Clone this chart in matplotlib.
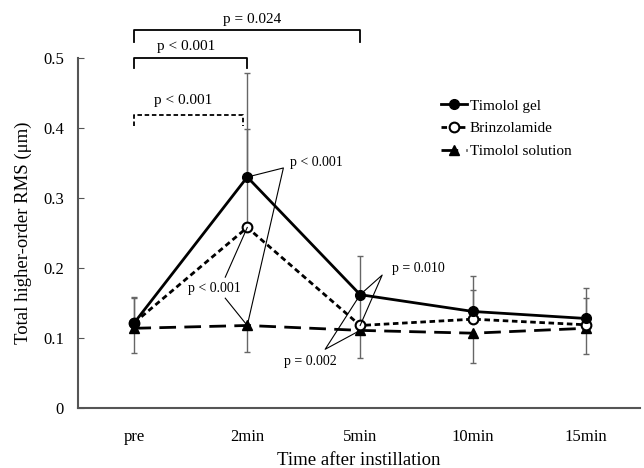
import numpy as np
import matplotlib
matplotlib.use("Agg")
import matplotlib.pyplot as plt

plt.rcParams["font.family"] = ["Liberation Serif", "DejaVu Serif"]

# data
times = ["pre", "2min", "5min", "10min", "15min"]
gel = [0.122, 0.330, 0.162, 0.138, 0.128]
brinz = [0.122, 0.258, 0.118, 0.127, 0.119]
sol = [0.114, 0.118, 0.111, 0.107, 0.114]

gel_up = [0.037, 0.148, 0.055, 0.051, 0.043]
brinz_up = [0.035, 0.141, 0.040, 0.042, 0.038]
sol_down = [0.035, 0.038, 0.040, 0.043, 0.037]

x = np.arange(len(times))
zeros = [0] * len(times)

fig = plt.figure(figsize=(6.44, 4.68), dpi=100)
ax = fig.add_axes([0.121, 0.128, 0.873, 0.748])

ecol = "#666666"
ax.errorbar(x, gel, yerr=[zeros, gel_up], fmt="none", ecolor=ecol, elinewidth=1, capsize=2, zorder=1)
ax.errorbar(x, brinz, yerr=[zeros, brinz_up], fmt="none", ecolor=ecol, elinewidth=1, capsize=2, zorder=1)
ax.errorbar(x, sol, yerr=[sol_down, zeros], fmt="none", ecolor=ecol, elinewidth=1, capsize=2, zorder=1)

ax.plot(x, gel, color="black", lw=2, marker="o", ms=7, label="Timolol gel", zorder=4)
ax.plot(x, brinz, color="black", lw=2, dashes=(2, 1.3), marker="o", ms=7, mfc="white",
        mec="black", mew=1.5, label="Brinzolamide", zorder=3)
ax.plot(x, sol, color="black", lw=2, dashes=(6, 3), marker="^", ms=7, label="Timolol solution", zorder=2)

ax.set_xlim(-0.5, 4.48)
ax.set_ylim(0, 0.5)
ax.set_xticks(x)
ax.set_xticklabels(times)
ax.set_yticks([0, 0.1, 0.2, 0.3, 0.4, 0.5])
ax.set_yticklabels(["0", "0.1", "0.2", "0.3", "0.4", "0.5"])
ax.tick_params(axis="y", direction="in", length=4, pad=10, labelsize=12, color="#555555")
ax.tick_params(axis="x", length=0, pad=15, labelsize=12)
for s in ["top", "right"]:
    ax.spines[s].set_visible(False)
for s in ["left", "bottom"]:
    ax.spines[s].set_color("#555555")
    ax.spines[s].set_linewidth(1.5)

ax.set_xlabel("Time after instillation", fontsize=13.5, labelpad=5)
ax.set_ylabel("Total higher-order RMS (\u03bcm)", fontsize=13.5, labelpad=8)

# brackets above the plot
kw = dict(color="black", lw=1.3, clip_on=False)
ax.plot([0, 0, 2, 2], [0.523, 0.54, 0.54, 0.523], **kw)
ax.text(1.04, 0.546, "p = 0.024", ha="center", va="bottom", fontsize=11)
ax.plot([0, 0, 1, 1], [0.486, 0.5, 0.5, 0.486], **kw)
ax.text(0.46, 0.507, "p < 0.001", ha="center", va="bottom", fontsize=11)
ax.plot([0, 0, 0.96, 0.96], [0.403, 0.419, 0.419, 0.403], dashes=(2.5, 1.5), **kw)
ax.text(0.43, 0.43, "p < 0.001", ha="center", va="bottom", fontsize=11)

# comparison pointers
lk = dict(color="black", lw=0.8, zorder=5)
ax.plot([1, 1.32, 1], [gel[1], 0.343, sol[1]], **lk)
ax.text(1.38, 0.351, "p < 0.001", ha="left", va="center", fontsize=10)
ax.plot([1, 0.805], [brinz[1], 0.187], **lk)
ax.plot([1, 0.805], [sol[1], 0.157], **lk)
ax.text(0.708, 0.171, "p < 0.001", ha="center", va="center", fontsize=10)
ax.plot([2, 2.195, 2], [gel[2], 0.19, brinz[2]], **lk)
ax.text(2.28, 0.2, "p = 0.010", ha="left", va="center", fontsize=10)
ax.plot([2, 1.69, 2], [gel[2], 0.084, sol[2]], **lk)
ax.text(1.56, 0.066, "p = 0.002", ha="center", va="center", fontsize=10)

ax.legend(loc="upper left", bbox_to_anchor=(0.632, 0.905), frameon=False, fontsize=11,
          handlelength=1.7, handletextpad=0.2, labelspacing=0.6, borderpad=0)

fig.savefig("out.png", dpi=100)
